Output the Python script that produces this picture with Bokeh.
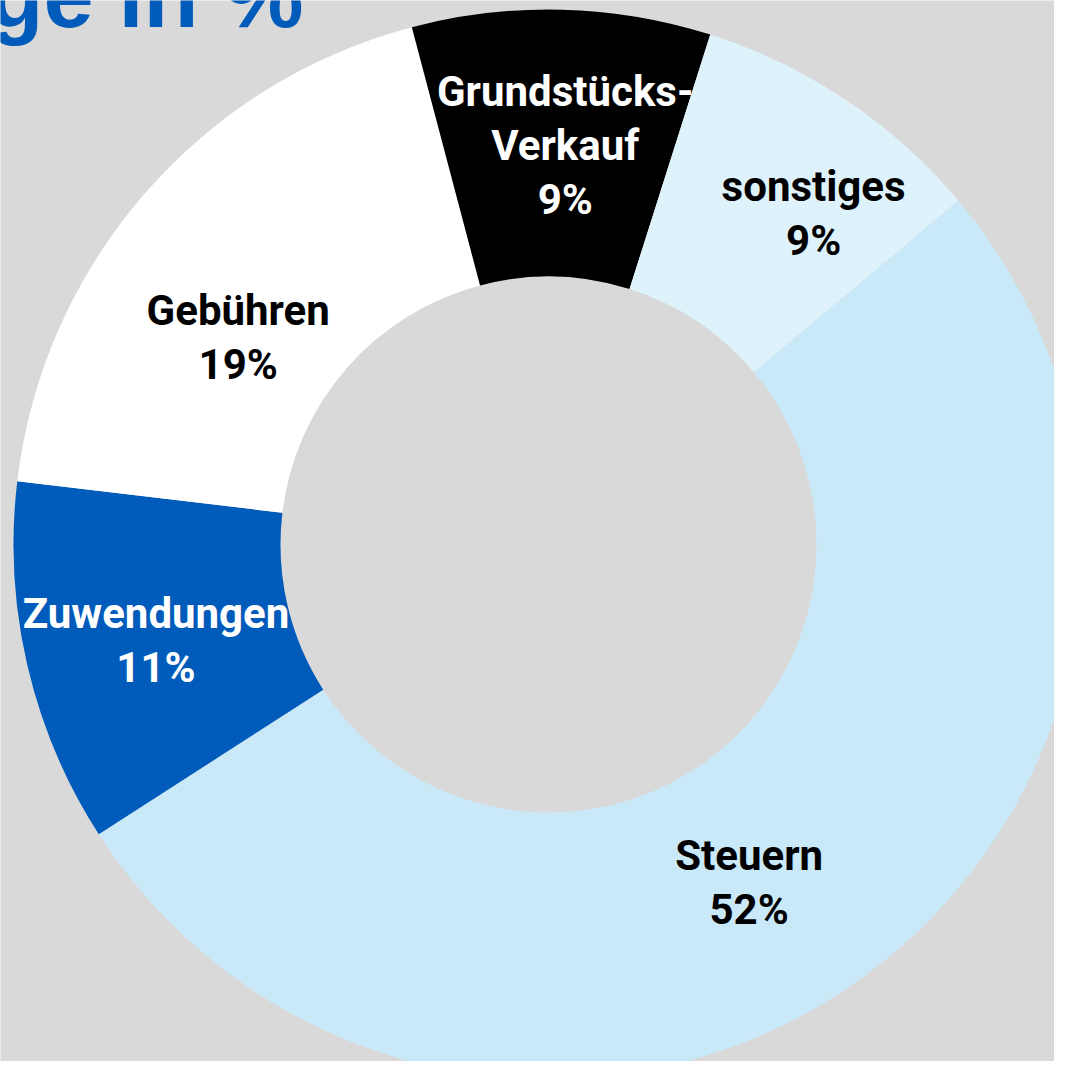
import math
from bokeh.plotting import figure
from bokeh.models import Range1d, ColumnDataSource
from bokeh.core.properties import value
from bokeh.embed import file_html
from bokeh.resources import INLINE

# ---- data ----
categories = ["Steuern", "Zuwendungen", "Gebühren", "Grundstücks-Verkauf", "sonstiges"]
label_lines = [["Steuern"], ["Zuwendungen"], ["Gebühren"], ["Grundstücks-", "Verkauf"], ["sonstiges"]]
values = [52, 11, 19, 9, 9]
title_text = "ge in %"

# ---- styles / layout ----
colors = ["#C9E9F9", "#005BBB", "#FFFFFF", "#000000", "#DEF2FB"]
label_colors = ["black", "white", "black", "white", "black"]
label_angle_nudge = [-5.7, 0.7, 7.3, -1.0, -4.9]   # degrees relative to mid angle
label_radius = [393, 404, 373, 399, 424]
BG = "#D9D9D9"
W, H = 1054, 1061
cx, cy = 548, H - 544
r_in, r_out = 268, 535
start_deg = 40.0
font = "Roboto"
fs = 42
line_h = 54

total = float(sum(values))
starts, ends, mids = [], [], []
a = start_deg
for v in values:
    sweep = 360.0 * v / total
    starts.append(math.radians(a))
    ends.append(math.radians(a - sweep))
    mids.append(a - sweep / 2.0)
    a -= sweep

src = ColumnDataSource(dict(start=starts, end=ends, color=colors, cat=categories))

p = figure(width=W, height=H, output_backend="svg", toolbar_location=None,
           x_range=Range1d(0, W), y_range=Range1d(0, H), min_border=0)
p.axis.visible = False
p.grid.visible = False
p.outline_line_color = None
p.background_fill_color = BG
p.border_fill_color = BG

p.annular_wedge(x=cx, y=cy, inner_radius=r_in, outer_radius=r_out,
                start_angle="start", end_angle="end", direction="clock",
                fill_color="color", line_color=None, source=src)

tx, ty, tt, tc = [], [], [], []
for i, v in enumerate(values):
    ang = math.radians(mids[i] + label_angle_nudge[i])
    lx = cx + label_radius[i] * math.cos(ang)
    ly = cy + label_radius[i] * math.sin(ang)
    lines = label_lines[i] + [f"{v}%"]
    n = len(lines)
    for j, s in enumerate(lines):
        tx.append(lx)
        ty.append(ly + (n - 1) / 2.0 * line_h - j * line_h)
        tt.append(s)
        tc.append(label_colors[i])

p.text(x=tx, y=ty, text=tt, text_color=tc, text_font=value(font),
       text_font_style="bold", text_font_size=f"{fs}px",
       text_align="center", text_baseline="middle")

# cropped title at top-left
p.text(x=[-12], y=[H + 5], text=[title_text], text_color="#005BBB",
       text_font=value("Liberation Sans"), text_font_style="bold",
       text_font_size="90px", text_align="left", text_baseline="middle")

open("out.html", "w").write(file_html(p, INLINE))
